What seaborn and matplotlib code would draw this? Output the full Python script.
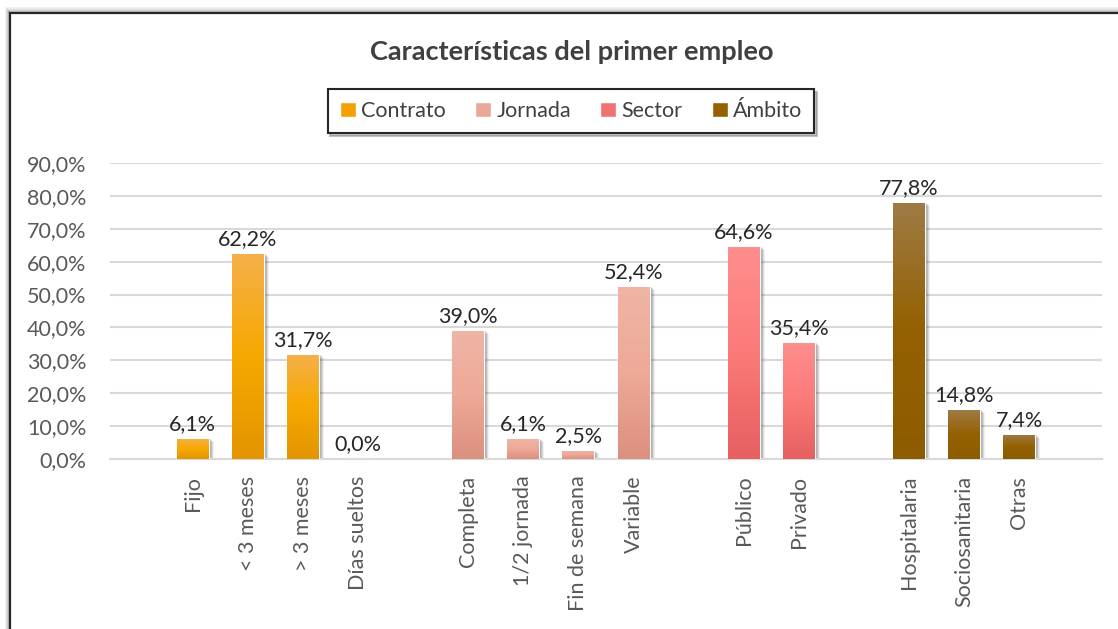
import numpy as np
import pandas as pd
import seaborn as sns
import matplotlib.pyplot as plt
from matplotlib.patches import Rectangle, Patch
from matplotlib.colors import LinearSegmentedColormap

# data (blank slots separate the groups)
categories = ['', 'Fijo', '< 3 meses', '> 3 meses', 'Días sueltos', ' ',
              'Completa', '1/2 jornada', 'Fin de semana', 'Variable', '  ',
              'Público', 'Privado', '   ',
              'Hospitalaria', 'Sociosanitaria', 'Otras', '    ']
groups = [None, 'Contrato', 'Contrato', 'Contrato', 'Contrato', None,
          'Jornada', 'Jornada', 'Jornada', 'Jornada', None,
          'Sector', 'Sector', None,
          'Ámbito', 'Ámbito', 'Ámbito', None]
values = [np.nan, 6.1, 62.2, 31.7, 0.0, np.nan,
          39.0, 6.1, 2.5, 52.4, np.nan,
          64.6, 35.4, np.nan,
          77.8, 14.8, 7.4, np.nan]
series = ['Contrato', 'Jornada', 'Sector', 'Ámbito']

colors = {'Contrato': '#F2A100', 'Jornada': '#EBA898', 'Sector': '#F07272', 'Ámbito': '#946000'}
grad = {'Contrato': ('#F5B04A', '#F7A800', '#E39500'),
        'Jornada': ('#F0B5A5', '#EEA998', '#DC9080'),
        'Sector': ('#FF8E8E', '#FB7A78', '#E66060'),
        'Ámbito': ('#9E7B45', '#946000', '#8E5C00')}

df = pd.DataFrame({'cat': categories, 'grupo': groups, 'valor': values}).dropna()

sns.set_style('white')
plt.rcParams['font.family'] = ['Lato', 'DejaVu Sans']

W, H = 1118, 629
fig = plt.figure(figsize=(W / 100, H / 100), dpi=100)
fig.patch.set_facecolor('white')

# outer chart frame with shadow
for i, a in enumerate([0.05, 0.08, 0.12, 0.18, 0.25]):
    fig.add_artist(Rectangle(((10 - 5 + i) / W, 0), 2 / W, (H - 13 + 5 - i) / H,
                             transform=fig.transFigure, color='black', alpha=a, lw=0))
    fig.add_artist(Rectangle(((10 - 5 + i) / W, (H - 13 + 5 - i) / H), 1.2, 1.5 / H,
                             transform=fig.transFigure, color='black', alpha=a, lw=0))
fig.add_artist(Rectangle((10 / W, -0.1), 1.2, (H - 13) / H + 0.1, transform=fig.transFigure,
                         fill=False, ec='#262626', lw=1.6))

x0, x1, y0, y1 = 110, 1102, 459, 163
ax = fig.add_axes([x0 / W, (H - y0) / H, (x1 - x0) / W, (y0 - y1) / H])

sns.barplot(data=df, x='cat', y='valor', hue='grupo', order=categories, hue_order=series,
            palette=colors, dodge=False, width=0.58, legend=False, ax=ax, zorder=3)

ax.set_xlim(-0.5, len(categories) - 0.5)
ax.set_ylim(0, 90)
ax.set_yticks(np.arange(0, 91, 10))
ax.set_yticklabels([f'{v:.1f}%'.replace('.', ',') for v in np.arange(0, 91, 10)])
ax.grid(axis='y', color='#D9D9D9', lw=1.5, zorder=0)
ax.set_axisbelow(True)
for s in ['top', 'right', 'left']:
    ax.spines[s].set_visible(False)
ax.spines['bottom'].set_color('#D9D9D9')
ax.spines['bottom'].set_linewidth(1.5)
ax.set_xlabel('')
ax.set_ylabel('')
ax.tick_params(axis='y', length=0, pad=17, labelsize=15.5, labelcolor='#595959')
ax.tick_params(axis='x', length=0, pad=12, labelsize=15.5, labelcolor='#595959', rotation=90)
for lab in ax.get_xticklabels():
    lab.set_va('top')

# gradient fill, shadow and labels
px = (len(categories)) / (x1 - x0)
py = 90 / (y0 - y1)
lookup = dict(zip(categories, groups))
for bar in ax.patches:
    h = bar.get_height()
    if np.isnan(h):
        continue
    xb, wb = bar.get_x(), bar.get_width()
    xc = xb + wb / 2
    idx = int(round(xc))
    g = lookup[categories[idx]]
    if h > 0:
        for k, a in enumerate([0.06, 0.09, 0.12, 0.15]):
            off = 5 - k
            ax.add_patch(Rectangle((xb + off * px, -1.5 * py), wb, h - (3 - k) * py + 1.5 * py,
                                   color='black', alpha=a, lw=0, zorder=2))
        cmap = LinearSegmentedColormap.from_list(g, list(grad[g])[::-1])
        img = ax.imshow(np.linspace(0, 1, 100).reshape(-1, 1), cmap=cmap, aspect='auto',
                        extent=(xb, xb + wb, 0, h), origin='lower', zorder=3.5)
        img.set_clip_path(bar)
    ax.text(xc, h + 1.5, f'{h:.1f}%'.replace('.', ','), ha='center', va='bottom',
            fontsize=15.5, color='#262626', zorder=5)
ax.set_xlim(-0.5, len(categories) - 0.5)
ax.set_ylim(0, 90)

fig.text(572 / W, 1 - 52 / H, 'Características del primer empleo', ha='center', va='center',
         fontsize=19.5, fontweight='bold', color='#404040')

handles = [Patch(facecolor=colors[s], label=s) for s in series]
leg = fig.legend(handles=handles, loc='center', bbox_to_anchor=(571 / W, 1 - 111 / H), ncol=4,
                 frameon=True, fancybox=False, shadow={'color': '#888888', 'alpha': 0.5},
                 edgecolor='#262626', fontsize=15.5, handlelength=0.75, handleheight=0.75,
                 handletextpad=0.25, columnspacing=1.35, borderpad=0.55, labelcolor='#404040')
leg.get_frame().set_linewidth(1.5)

fig.savefig('out.png', dpi=100, facecolor='white')
